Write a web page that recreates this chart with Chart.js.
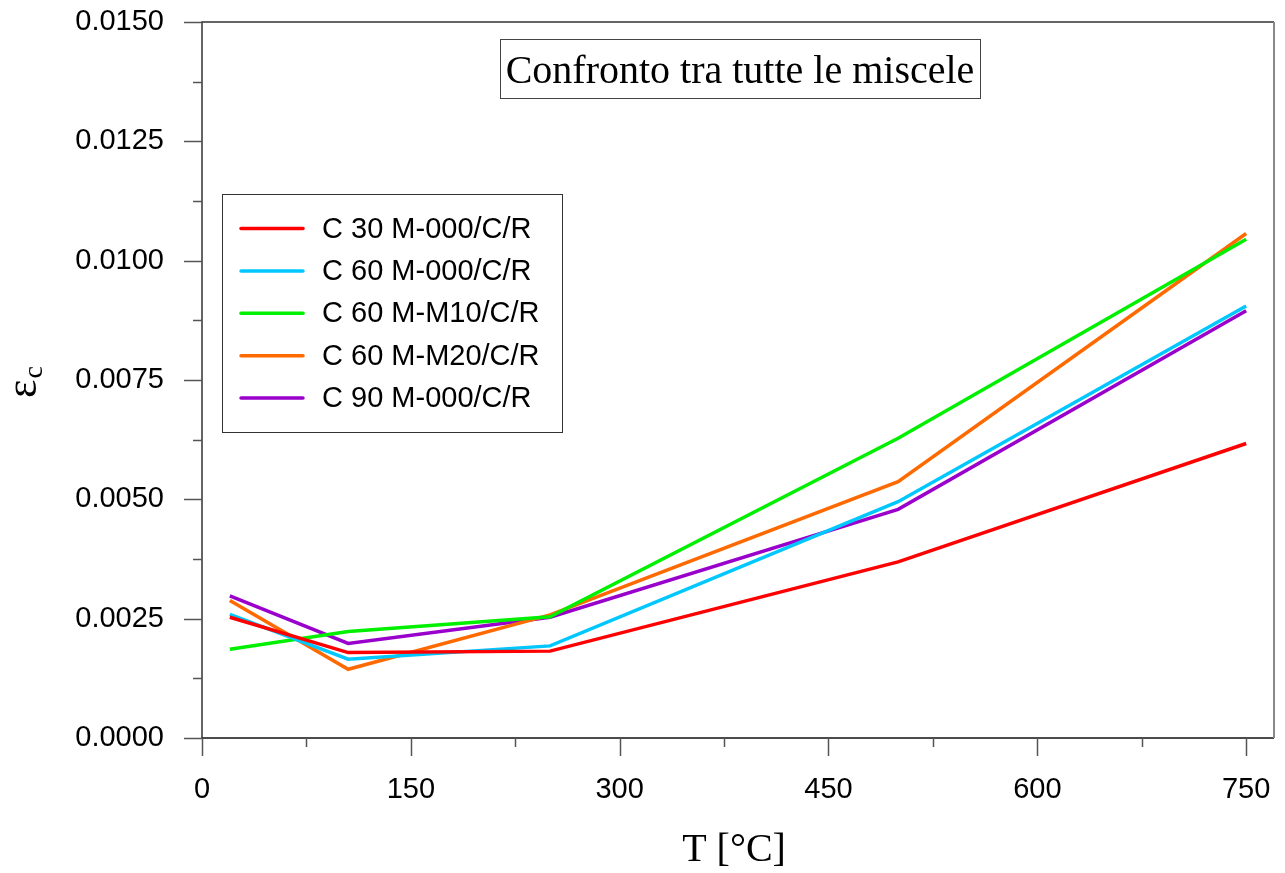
<!DOCTYPE html>
<html>
<head>
<meta charset="utf-8">
<title>Confronto tra tutte le miscele</title>
<script src="https://cdn.jsdelivr.net/npm/chart.js@4.4.1/dist/chart.umd.min.js"></script>
<style>
  html, body { margin: 0; padding: 0; background: #ffffff; }
  #wrap { width: 1285px; height: 873px; }
</style>
</head>
<body>
<div id="wrap"><canvas id="chart" width="1285" height="873"></canvas></div>
<script>
// Temperatures of the test series [°C]
const temperatures = [20, 105, 250, 500, 750];

// Strain values ε_c for each mix
const c30_m000 = [0.00253, 0.00179, 0.00182, 0.00369, 0.00617];
const c60_m000 = [0.00259, 0.00165, 0.00193, 0.00495, 0.00905];
const c60_m10  = [0.00186, 0.00223, 0.00254, 0.00628, 0.01045];
const c60_m20  = [0.00288, 0.00144, 0.00258, 0.00537, 0.01057];
const c90_m000 = [0.00298, 0.00198, 0.00253, 0.00479, 0.00895];

const seriesNames = [
  'C 30 M-000/C/R',
  'C 60 M-000/C/R',
  'C 60 M-M10/C/R',
  'C 60 M-M20/C/R',
  'C 90 M-000/C/R'
];
const seriesValues = [c30_m000, c60_m000, c60_m10, c60_m20, c90_m000];
const seriesColors = ['#ff0000', '#00c8ff', '#00f000', '#ff6a00', '#9a00cc'];

// Axis ticks
const xTicks = [0, 150, 300, 450, 600, 750];
const yTicks = [0, 0.0025, 0.005, 0.0075, 0.01, 0.0125, 0.015];

const SANS = "'Liberation Sans', Arial, sans-serif";
const SERIF = "'Liberation Serif', 'Times New Roman', serif";

const datasets = seriesNames.map((name, i) => ({
  label: name,
  data: temperatures.map((t, k) => ({ x: t, y: seriesValues[i][k] })),
  borderColor: seriesColors[i],
  backgroundColor: seriesColors[i],
  borderWidth: 3.5,
  pointRadius: 0,
  tension: 0,
  fill: false
}));

// Frame, tick marks, boxed title, legend and axis titles
const decorations = {
  id: 'decorations',
  afterDraw(chart) {
    const ctx = chart.ctx;
    const a = chart.chartArea;
    const xs = chart.scales.x, ys = chart.scales.y;
    ctx.save();

    // frame
    ctx.lineWidth = 1.5;
    ctx.strokeStyle = '#333333';
    ctx.beginPath();
    ctx.moveTo(a.left, a.bottom); ctx.lineTo(a.left, a.top); ctx.lineTo(a.right, a.top);
    ctx.stroke();
    ctx.strokeStyle = '#111111';
    ctx.beginPath();
    ctx.moveTo(a.left, a.bottom); ctx.lineTo(a.right, a.bottom);
    ctx.stroke();
    ctx.strokeStyle = '#888888';
    ctx.lineWidth = 2;
    ctx.beginPath();
    ctx.moveTo(a.right, a.top); ctx.lineTo(a.right, a.bottom);
    ctx.stroke();

    // tick marks (major + minor)
    ctx.lineWidth = 1.5;
    ctx.strokeStyle = '#555555';
    ctx.beginPath();
    for (let v = 0; v <= 750 + 1e-9; v += 75) {
      const px = Math.round(xs.getPixelForValue(v)) + 0.5;
      const len = (Math.round(v) % 150 === 0) ? 18 : 9;
      ctx.moveTo(px, a.bottom); ctx.lineTo(px, a.bottom + len);
    }
    for (let k = 0; k <= 12; k++) {
      const v = k * 0.00125;
      const py = Math.round(ys.getPixelForValue(v)) + 0.5;
      const len = (k % 2 === 0) ? 18 : 9;
      ctx.moveTo(a.left, py); ctx.lineTo(a.left - len, py);
    }
    ctx.stroke();

    // boxed title
    ctx.lineWidth = 1;
    ctx.strokeStyle = '#444444';
    ctx.strokeRect(500.5, 39.5, 480, 59);
    ctx.fillStyle = '#000000';
    ctx.font = '40px ' + SERIF;
    ctx.textAlign = 'center';
    ctx.textBaseline = 'alphabetic';
    ctx.fillText('Confronto tra tutte le miscele', 740, 83);

    // legend
    ctx.strokeStyle = '#333333';
    ctx.lineWidth = 1;
    ctx.strokeRect(222.5, 194.5, 340, 238);
    ctx.font = '29px ' + SANS;
    ctx.textAlign = 'left';
    ctx.textBaseline = 'middle';
    chart.data.datasets.forEach((ds, i) => {
      const y = 228.5 + i * 42.4;
      ctx.strokeStyle = ds.borderColor;
      ctx.lineWidth = 3.5;
      ctx.lineCap = 'round';
      ctx.beginPath();
      ctx.moveTo(241, y); ctx.lineTo(303, y);
      ctx.stroke();
      ctx.fillStyle = '#000000';
      ctx.fillText(ds.label, 322, y + 1);
    });

    // x axis title
    ctx.fillStyle = '#000000';
    ctx.font = '40px ' + SERIF;
    ctx.textAlign = 'center';
    ctx.textBaseline = 'alphabetic';
    ctx.fillText('T [°C]', 734, 861);

    // y axis title: ε with subscript c, rotated
    ctx.translate(36, 398);
    ctx.rotate(-Math.PI / 2);
    ctx.textAlign = 'left';
    ctx.font = '44px ' + SERIF;
    ctx.fillText('ε', 0, 0);
    const w = ctx.measureText('ε').width;
    ctx.font = '28px ' + SERIF;
    ctx.fillText('c', w + 1, 6);

    ctx.restore();
  }
};

new Chart(document.getElementById('chart'), {
  type: 'line',
  data: { datasets },
  options: {
    responsive: false,
    animation: false,
    layout: { padding: { top: 22, right: 11, left: 0, bottom: 0 } },
    plugins: {
      legend: { display: false },
      tooltip: { enabled: false },
      title: { display: false }
    },
    scales: {
      x: {
        type: 'linear',
        min: 0,
        max: 770,
        border: { display: false },
        grid: { display: false, drawTicks: false },
        afterFit(scale) {
          scale.height = 135;
          scale.paddingLeft = 0; scale.paddingRight = 0;
          scale.paddingTop = 0; scale.paddingBottom = 0;
        },
        afterBuildTicks(scale) { scale.ticks = xTicks.map(v => ({ value: v })); },
        ticks: {
          includeBounds: false,
          padding: 35,
          color: '#000000',
          font: { family: SANS, size: 29 },
          maxRotation: 0,
          autoSkip: false,
          callback: v => String(v)
        }
      },
      y: {
        type: 'linear',
        min: 0,
        max: 0.015,
        border: { display: false },
        grid: { display: false, drawTicks: false },
        afterFit(scale) {
          scale.width = 202;
          scale.paddingLeft = 0; scale.paddingRight = 0;
          scale.paddingTop = 0; scale.paddingBottom = 0;
        },
        afterBuildTicks(scale) { scale.ticks = yTicks.map(v => ({ value: v })); },
        ticks: {
          includeBounds: false,
          padding: 38,
          color: '#000000',
          font: { family: SANS, size: 29 },
          autoSkip: false,
          callback: v => Number(v).toFixed(4)
        }
      }
    }
  },
  plugins: [decorations]
});
</script>
</body>
</html>
